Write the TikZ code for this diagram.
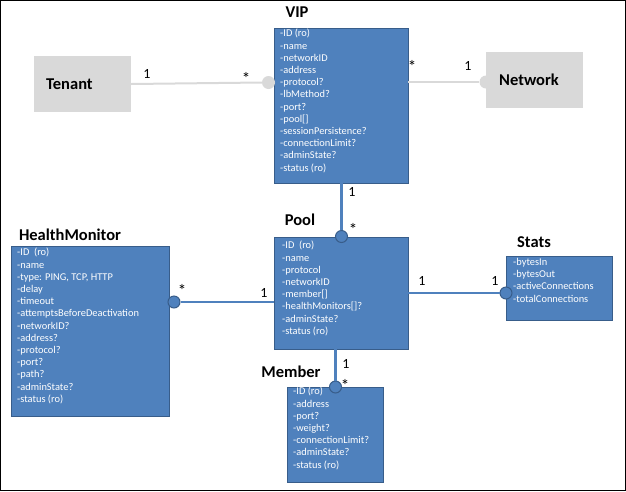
\documentclass[tikz,border=0pt]{standalone}
\usepackage{fontspec}
\setmainfont{Carlito}
\definecolor{boxblue}{HTML}{4F81BD}
\definecolor{boxedge}{HTML}{385D8A}
\definecolor{greybox}{HTML}{D9D9D9}
\begin{document}
\begin{tikzpicture}[x=1pt,y=-1pt,
  cls/.style={draw=boxedge, fill=boxblue, line width=1pt, inner sep=0pt, outer sep=0pt, anchor=north west},
  ent/.style={fill=greybox, inner sep=0pt, outer sep=0pt, anchor=north west},
  attrs/.style={text=white, font=\fontsize{10.4}{12.2}\selectfont, align=left, anchor=north west, inner sep=0pt},
  ttl/.style={font=\fontsize{16.5}{18}\selectfont\bfseries, inner sep=0pt},
  entlabel/.style={font=\fontsize{16.5}{18}\selectfont\bfseries, inner sep=0pt, anchor=west},
  mult/.style={font=\fontsize{14}{16}\selectfont, inner sep=0pt, anchor=base},
  star/.style={font=\fontsize{17}{19}\selectfont, inner sep=0pt, anchor=base},
  bluelink/.style={draw=boxblue, line width=2.2pt},
  greylink/.style={draw=greybox, line width=2pt},
  bluedot/.style={circle, draw=boxedge, fill=boxblue, line width=1pt, minimum size=12pt, inner sep=0pt},
  greydot/.style={circle, fill=greybox, minimum size=13pt, inner sep=0pt},
]
\useasboundingbox (0,0) rectangle (626,491);
\draw[line width=1pt] (0.5,0.5) rectangle (625.5,490.5);

% grey entities
\node[greydot] (ndot) at (486,82) {};
\node[ent, minimum width=97pt, minimum height=56pt] (tenant) at (34,56) {};
\node[ent, minimum width=97pt, minimum height=56pt] (network) at (486,52) {};
\node[entlabel] (tenantlbl) at ([xshift=12pt]tenant.west) {Tenant};
\node[entlabel] (networklbl) at ([xshift=13pt]network.west) {Network};

% classes
\node[cls, minimum width=134pt, minimum height=155pt] (vip) at (274,28) {};
\node[cls, minimum width=134pt, minimum height=112pt] (pool) at (274,237) {};
\node[cls, minimum width=158pt, minimum height=170pt] (hm) at (11,246) {};
\node[cls, minimum width=106pt, minimum height=64pt] (stats) at (506,256) {};
\node[cls, minimum width=96pt, minimum height=95pt] (member) at (287,387) {};

% titles
\node[ttl] (viptitle) at (297,12) {VIP};
\node[ttl] (pooltitle) at (300,220) {Pool};
\node[ttl] (hmtitle) at (70,235) {HealthMonitor};
\node[ttl] (statstitle) at (534,242) {Stats};
\node[ttl] (membertitle) at (291,372) {Member};

% attributes
\node[attrs] (vipattrs) at (280,29) {-ID (ro)\\-name\\-networkID\\-address\\-protocol?\\-lbMethod?\\-port?\\-pool[]\\-sessionPersistence?\\-connectionLimit?\\-adminState?\\-status (ro)};
\node[attrs] (poolattrs) at (282,241) {-ID~~(ro)\\-name\\-protocol\\-networkID\\-member[]\\-healthMonitors[]?\\-adminState?\\-status (ro)};
\node[attrs] (hmattrs) at (17,248) {-ID~~(ro)\\-name\\-type: PING, TCP, HTTP\\-delay\\-timeout\\-attemptsBeforeDeactivation\\-networkID?\\-address?\\-protocol?\\-port?\\-path?\\-adminState?\\-status (ro)};
\node[attrs] (statsattrs) at (513,258) {-bytesIn\\-bytesOut\\-activeConnections\\-totalConnections};
\node[attrs] (memberattrs) at (293,387) {-ID (ro)\\-address\\-port?\\-weight?\\-connectionLimit?\\-adminState?\\-status (ro)};

% connector dots
\node[greydot] (tdot) at (268.5,82.5) {};
\node[bluedot] (vdot) at (341.5,236.5) {};
\node[bluedot] (hdot) at (174,302) {};
\node[bluedot] (sdot) at (506,293) {};
\node[bluedot] (mdot) at (335.5,387) {};

% connectors
\draw[greylink] (tenant.east) -- (tdot.west);
\draw[greylink] (vip.east |- ndot.center) -- (ndot.west);
\draw[bluelink] (vip.south -| vdot.center) -- (vdot.north);
\draw[bluelink] (hdot.east) -- (hdot -| pool.west);
\draw[bluelink] (sdot.west) -- (sdot -| pool.east);
\draw[bluelink] (pool.south -| mdot.center) -- (mdot.north);

% multiplicities
\node[mult] (m1) at (147,78) {1};
\node[star] (m2) at (246,84) {*};
\node[star] (m3) at (412,72) {*};
\node[mult] (m4) at (468,70) {1};
\node[mult] (m5) at (352,196) {1};
\node[star] (m6) at (353,235) {*};
\node[star] (m7) at (182,296) {*};
\node[mult] (m8) at (264,297) {1};
\node[mult] (m9) at (422,285) {1};
\node[mult] (m10) at (495,285) {1};
\node[mult] (m11) at (346,368) {1};
\node[star] (m12) at (345,391) {*};
\end{tikzpicture}
\end{document}
